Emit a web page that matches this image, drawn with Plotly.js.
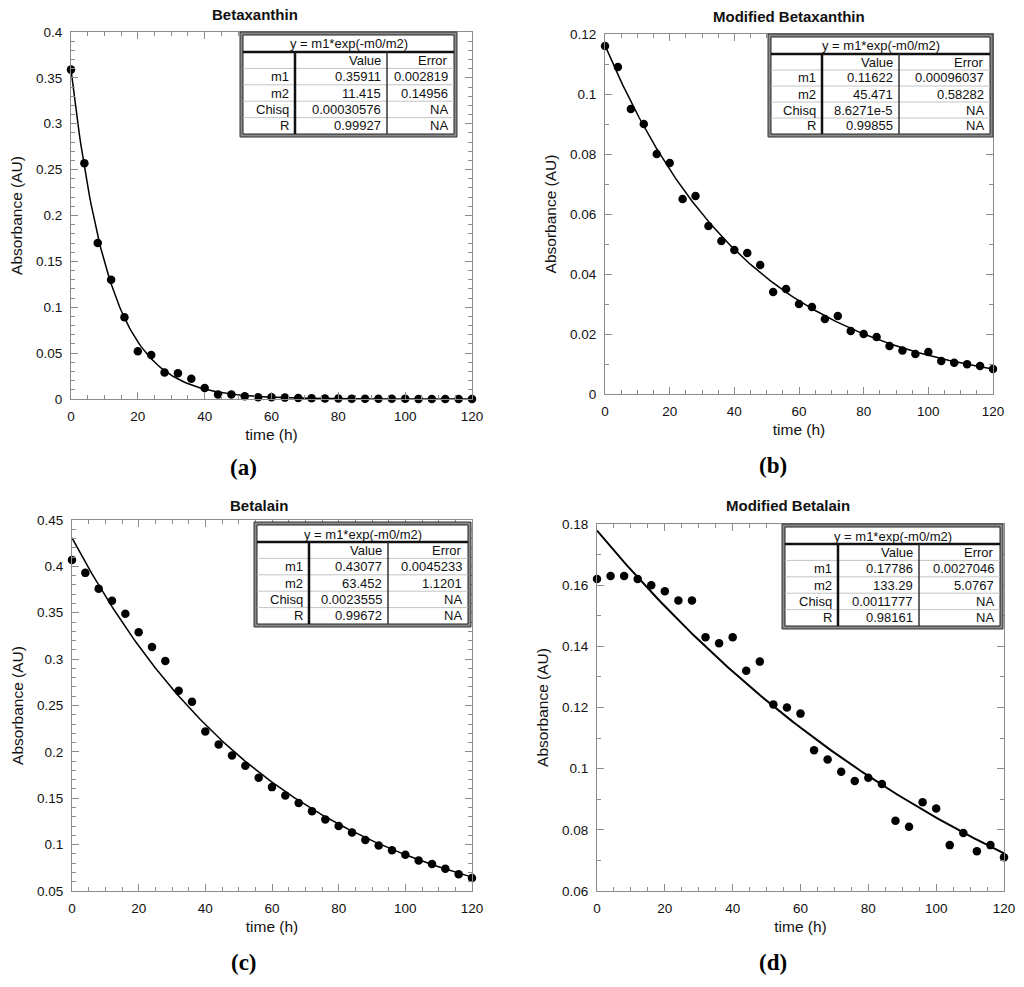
<!DOCTYPE html>
<html>
<head>
<meta charset="utf-8">
<script src="https://cdn.plot.ly/plotly-3.0.1.min.js"></script>
<style>
  html, body { margin: 0; padding: 0; background: #fff; }
  #chart { width: 1024px; height: 987px; }
</style>
</head>
<body>
<div id="chart"></div>
<script>
// sampling times (h), shared by all four panels
const times = [0, 4, 8, 12, 16, 20, 24, 28, 32, 36, 40, 44, 48, 52, 56, 60,
               64, 68, 72, 76, 80, 84, 88, 92, 96, 100, 104, 108, 112, 116, 120];

const betaxanthin = [0.359, 0.257, 0.170, 0.130, 0.089, 0.052, 0.048, 0.029, 0.028, 0.022,
                     0.012, 0.005, 0.005, 0.003, 0.002, 0.002, 0.0015, 0.001, 0.0008, 0.0006,
                     0.0005, 0.0004, 0.0003, 0.0003, 0.0002, 0.0002, 0.0001, 0.0001, 0.0001, 0.0001, 0.0001];
const modBetaxanthin = [0.116, 0.109, 0.095, 0.090, 0.080, 0.077, 0.065, 0.066, 0.056, 0.051,
                        0.048, 0.047, 0.043, 0.034, 0.035, 0.030, 0.029, 0.025, 0.026, 0.021,
                        0.020, 0.019, 0.016, 0.0145, 0.0133, 0.014, 0.011, 0.0104, 0.0099, 0.0093, 0.0083];
const betalain = [0.407, 0.393, 0.376, 0.363, 0.349, 0.329, 0.313, 0.298, 0.266, 0.254,
                  0.222, 0.208, 0.196, 0.185, 0.172, 0.162, 0.153, 0.145, 0.136, 0.127,
                  0.120, 0.113, 0.105, 0.099, 0.094, 0.089, 0.083, 0.079, 0.074, 0.068, 0.064];
const modBetalain = [0.162, 0.163, 0.163, 0.162, 0.160, 0.158, 0.155, 0.155, 0.143, 0.141,
                     0.143, 0.132, 0.135, 0.121, 0.120, 0.118, 0.106, 0.103, 0.099, 0.096,
                     0.097, 0.095, 0.083, 0.081, 0.089, 0.087, 0.075, 0.079, 0.073, 0.075, 0.071];

const panelTitles = ['Betaxanthin', 'Modified Betaxanthin', 'Betalain', 'Modified Betalain'];
const panelTags = ['(a)', '(b)', '(c)', '(d)'];

// fit results as printed in each panel's table
const fitEquation = 'y = m1*exp(-m0/m2)';
const rowLabels = ['m1', 'm2', 'Chisq', 'R'];
const fitM1 = [0.35911, 0.11622, 0.43077, 0.17786];
const fitM2 = [11.415, 45.471, 63.452, 133.29];
const fitValues = [
    ['0.35911', '11.415', '0.00030576', '0.99927'],
    ['0.11622', '45.471', '8.6271e-5', '0.99855'],
    ['0.43077', '63.452', '0.0023555', '0.99672'],
    ['0.17786', '133.29', '0.0011777', '0.98161']
];
const fitErrors = [
    ['0.002819', '0.14956', 'NA', 'NA'],
    ['0.00096037', '0.58282', 'NA', 'NA'],
    ['0.0045233', '1.1201', 'NA', 'NA'],
    ['0.0027046', '5.0767', 'NA', 'NA']
];

const W = 1024, H = 987;
const px = x => x / W;
const py = y => 1 - y / H;

// pixel boxes of each plot area and its fit table
const panels = [
    { data: betaxanthin,    plot: [71, 472, 32, 399],  yRange: [0, 0.4],     yTick: 0.05, yMinor: 0.01,
      table: { l: 240, r: 457, t: 32, b: 137, c1: 295, c2: 387, hb: 52 },
      titleXY: [255, 15], tagXY: [243, 467], line: 1.5 },
    { data: modBetaxanthin, plot: [605, 993, 34, 394], yRange: [0, 0.12],    yTick: 0.02, yMinor: 0.01,
      table: { l: 768, r: 993, t: 34, b: 137, c1: 822, c2: 899, hb: 54 },
      titleXY: [789, 17], tagXY: [773, 465], line: 1.5 },
    { data: betalain,       plot: [72, 472, 520, 891], yRange: [0.05, 0.45], yTick: 0.05, yMinor: 0.01,
      table: { l: 254, r: 471, t: 522, b: 627, c1: 309, c2: 388, hb: 542 },
      titleXY: [259, 505], tagXY: [244, 962], line: 1.5 },
    { data: modBetalain,    plot: [597, 1004, 524, 891], yRange: [0.06, 0.18], yTick: 0.02, yMinor: 0.01,
      table: { l: 782, r: 1003, t: 524, b: 629, c1: 838, c2: 919, hb: 544 },
      titleXY: [788, 505], tagXY: [773, 962], line: 2 }
];

const frameColor = '#8c8c8c';
const sans = 'Liberation Sans, Arial, Helvetica, sans-serif';

function axisBase(range, dtick, minorDtick, titleText, domain, anchor) {
    return {
        domain: domain,
        anchor: anchor,
        range: range,
        autorange: false,
        tick0: 0,
        dtick: dtick,
        ticks: 'inside',
        ticklen: 7,
        tickwidth: 1,
        tickcolor: frameColor,
        ticklabelstandoff: 5,
        showline: true,
        linecolor: frameColor,
        linewidth: 1,
        mirror: 'ticks',
        showgrid: false,
        zeroline: false,
        minor: { dtick: minorDtick, tick0: 0, ticks: 'inside', ticklen: 4, tickcolor: frameColor, tickwidth: 1, showgrid: false },
        tickfont: { family: sans, size: 13.5, color: '#111' },
        title: { text: titleText, font: { family: sans, size: 15.5, color: '#111' }, standoff: 5 },
        fixedrange: true
    };
}

const traces = [];
const shapes = [];
const annotations = [];
const layout = {
    width: W,
    height: H,
    margin: { l: 0, r: 0, t: 0, b: 0 },
    paper_bgcolor: '#fff',
    plot_bgcolor: '#fff',
    showlegend: false,
    font: { family: sans, size: 12, color: '#111' }
};

panels.forEach((p, i) => {
    const n = i + 1;
    const xa = 'x' + (n === 1 ? '' : n);
    const ya = 'y' + (n === 1 ? '' : n);
    const [l, r, t, b] = p.plot;

    layout['xaxis' + (n === 1 ? '' : n)] = axisBase([0, 120], 20, 5, 'time (h)', [px(l), px(r)], ya);
    const yax = axisBase(p.yRange, p.yTick, p.yMinor, 'Absorbance (AU)', [py(b), py(t)], xa);
    yax.title.standoff = 9;
    yax.tick0 = p.yRange[0];
    yax.minor.tick0 = p.yRange[0];
    layout['yaxis' + (n === 1 ? '' : n)] = yax;

    // fitted curve y = m1*exp(-t/m2) using the parameters printed in the table
    const fitX = [];
    const fitY = [];
    for (let k = 0; k <= 240; k++) {
        const tt = k * 0.5;
        fitX.push(tt);
        fitY.push(fitM1[i] * Math.exp(-tt / fitM2[i]));
    }
    traces.push({
        x: fitX, y: fitY, xaxis: xa, yaxis: ya,
        type: 'scatter', mode: 'lines',
        line: { color: '#000', width: p.line },
        hoverinfo: 'skip'
    });
    traces.push({
        x: times, y: p.data, xaxis: xa, yaxis: ya,
        type: 'scatter', mode: 'markers',
        marker: { color: '#000', size: 8.5 },
        cliponaxis: false,
        name: panelTitles[i]
    });

    annotations.push({
        xref: 'paper', yref: 'paper', x: px(p.titleXY[0]), y: py(p.titleXY[1]),
        xanchor: 'center', yanchor: 'middle', showarrow: false,
        text: '<b>' + panelTitles[i] + '</b>',
        font: { family: sans, size: 15, color: '#111' }
    });
    annotations.push({
        xref: 'paper', yref: 'paper', x: px(p.tagXY[0]), y: py(p.tagXY[1]),
        xanchor: 'center', yanchor: 'middle', showarrow: false,
        text: '<b>' + panelTags[i] + '</b>',
        font: { family: 'Liberation Serif, Times New Roman, serif', size: 23, color: '#000' }
    });

    // fit table: double frame, heavy header rule, grey row rules
    const tb = p.table;
    const inset = 3;
    const rect = (x0, x1, y0, y1, fill, color, width) => ({
        type: 'rect', xref: 'paper', yref: 'paper',
        x0: px(x0), x1: px(x1), y0: py(y1), y1: py(y0),
        fillcolor: fill, line: { color: color, width: width }, layer: 'above'
    });
    const seg = (x0, y0, x1, y1, color, width) => ({
        type: 'line', xref: 'paper', yref: 'paper',
        x0: px(x0), y0: py(y0), x1: px(x1), y1: py(y1),
        line: { color: color, width: width }, layer: 'above'
    });
    shapes.push(rect(tb.l, tb.r, tb.t, tb.b, '#8a8a8a', '#333', 1));
    shapes.push(rect(tb.l + inset, tb.r - inset, tb.t + inset, tb.b - inset, '#fff', '#222', 1));

    const rowH = (tb.b - inset - tb.hb) / 5;
    for (let k = 1; k < 5; k++) {
        const yy = tb.hb + k * rowH;
        shapes.push(seg(tb.l + inset, yy, tb.r - inset, yy, '#c4c4c4', 1));
    }
    shapes.push(seg(tb.l + inset, tb.hb, tb.r - inset, tb.hb, '#111', 2.5));
    shapes.push(seg(tb.c1, tb.hb, tb.c1, tb.b - inset, '#111', 2.5));
    shapes.push(seg(tb.c2, tb.hb, tb.c2, tb.b - inset, '#333', 1.5));

    const cellFont = { family: sans, size: 13, color: '#111' };
    const cell = (x, y, txt, anchor) => ({
        xref: 'paper', yref: 'paper', x: px(x), y: py(y),
        xanchor: anchor, yanchor: 'middle', showarrow: false,
        text: txt, font: cellFont
    });
    annotations.push(cell((tb.l + tb.r) / 2, (tb.t + inset + tb.hb) / 2 + 0.5, fitEquation, 'center'));
    const headY = tb.hb + rowH / 2;
    annotations.push(cell(tb.c2 - 4, headY, 'Value', 'right'));
    annotations.push(cell(tb.r - inset - 4, headY, 'Error', 'right'));
    rowLabels.forEach((lab, k) => {
        const yy = tb.hb + (k + 1.5) * rowH;
        annotations.push(cell(tb.c1 - 4, yy, lab, 'right'));
        annotations.push(cell(tb.c2 - 4, yy, fitValues[i][k], 'right'));
        annotations.push(cell(tb.r - inset - 4, yy, fitErrors[i][k], 'right'));
    });
});

layout.shapes = shapes;
layout.annotations = annotations;

Plotly.newPlot('chart', traces, layout, { displayModeBar: false, staticPlot: true });
</script>
</body>
</html>
